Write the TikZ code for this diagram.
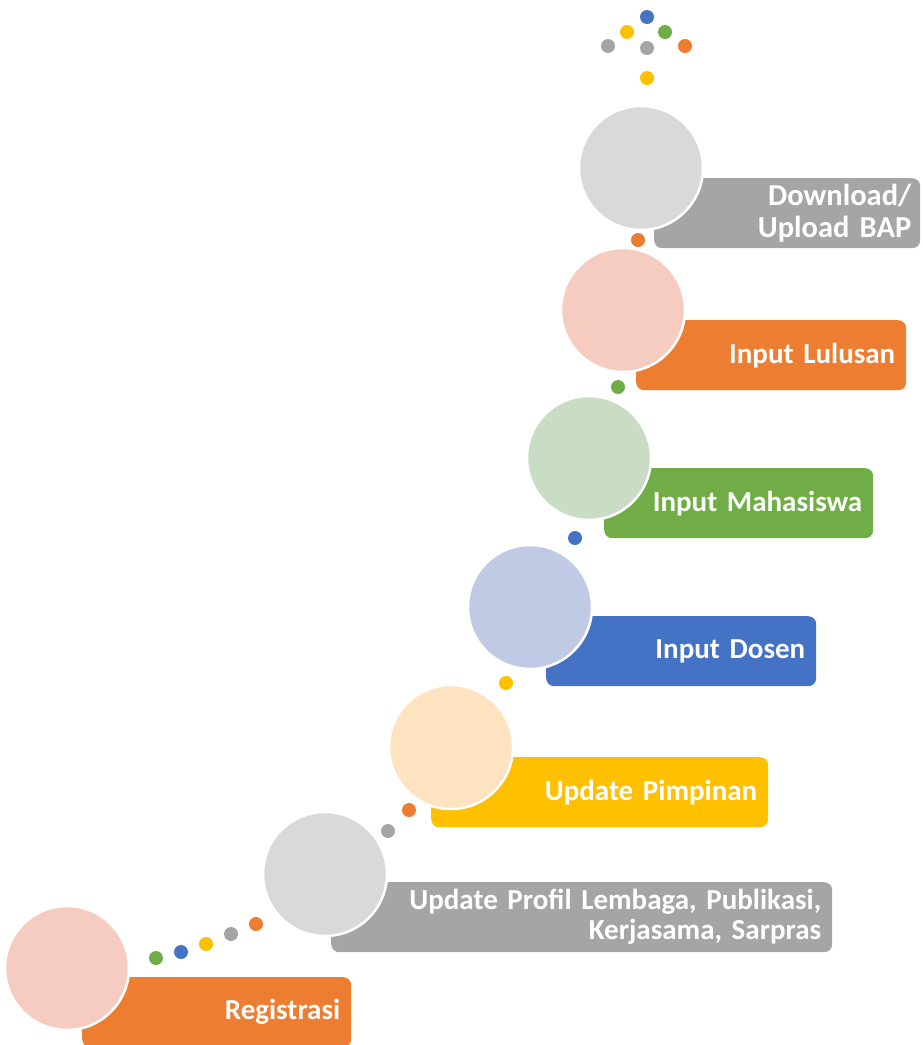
\documentclass[tikz,border=0pt]{standalone}
\usepackage{fontspec}
\setmainfont{Carlito}[WordSpace=0.85]
\definecolor{cOrange}{HTML}{ED7D31}
\definecolor{cGray}{HTML}{A5A5A5}
\definecolor{cYellow}{HTML}{FFC000}
\definecolor{cBlue}{HTML}{4472C4}
\definecolor{cGreen}{HTML}{70AD47}
\definecolor{lOrange}{HTML}{F5CCBF}
\definecolor{lGray}{HTML}{D9D9D9}
\definecolor{lYellow}{HTML}{FEE3C0}
\definecolor{lBlue}{HTML}{C0CAE4}
\definecolor{lGreen}{HTML}{C9DCC4}
\begin{document}
\begin{tikzpicture}[x=1pt,y=-1pt,
  stepbox/.style={rectangle, rounded corners=8pt, minimum height=70pt, inner xsep=11pt, inner ysep=0pt,
    align=right, anchor=north west, text=white, font=\fontsize{29}{30}\selectfont\bfseries},
  bigtext/.style={font=\fontsize{30.5}{32}\selectfont\bfseries},
  bubble/.style={circle, minimum size=124pt, inner sep=0pt, draw=white, line width=2.5pt},
  dot/.style={circle, minimum size=14pt, inner sep=0pt}]
\useasboundingbox (0,0) rectangle (922,1045);
% step 1
\node[stepbox, fill=cOrange, text width=247pt] (b1) at (82,977) {Registrasi};
\node[bubble, fill=lOrange] (c1) at (67,968) {};
% step 2
\node[stepbox, fill=cGray, text width=479pt] (b2) at (331,882) {Update Profil Lembaga, Publikasi,\\Kerjasama, Sarpras};
\node[bubble, fill=lGray] (c2) at (325,874) {};
% step 3
\node[stepbox, fill=cYellow, text width=315pt] (b3) at (431,757) {Update Pimpinan};
\node[bubble, fill=lYellow] (c3) at (451,747) {};
% step 4
\node[stepbox, fill=cBlue, text width=248pt] (b4) at (546,616) {Input Dosen};
\node[bubble, fill=lBlue] (c4) at (530,607) {};
% step 5
\node[stepbox, fill=cGreen, text width=247pt] (b5) at (604,468) {Input Mahasiswa};
\node[bubble, fill=lGreen] (c5) at (589,458) {};
% step 6
\node[stepbox, fill=cOrange, text width=248pt] (b6) at (636,320) {Input Lulusan};
\node[bubble, fill=lOrange] (c6) at (623,310) {};
% step 7
\node[stepbox, bigtext, fill=cGray, text width=248pt, inner xsep=9pt] (b7) at (654,178) {Download/\\Upload BAP};
\node[bubble, fill=lGray] (c7) at (641,168) {};
% dots between steps
\node[dot, fill=cGreen] (d1) at (156,958) {};
\node[dot, fill=cBlue] (d2) at (181,952) {};
\node[dot, fill=cYellow] (d3) at (206,944) {};
\node[dot, fill=cGray] (d4) at (231,934) {};
\node[dot, fill=cOrange] (d5) at (256,924) {};
\node[dot, fill=cGray] (d6) at (388,831) {};
\node[dot, fill=cOrange] (d7) at (409,810) {};
\node[dot, fill=cYellow] (d8) at (506,683) {};
\node[dot, fill=cBlue] (d9) at (575,538) {};
\node[dot, fill=cGreen] (d10) at (618,387) {};
\node[dot, fill=cOrange] (d11) at (638,240) {};
% top cluster
\node[dot, fill=cYellow] (t1) at (647,78) {};
\node[dot, fill=cGray] (t2) at (608,46) {};
\node[dot, fill=cGray] (t3) at (647,48) {};
\node[dot, fill=cOrange] (t4) at (685,46) {};
\node[dot, fill=cYellow] (t5) at (627,32) {};
\node[dot, fill=cGreen] (t6) at (665,32) {};
\node[dot, fill=cBlue] (t7) at (647,17) {};
\end{tikzpicture}
\end{document}
